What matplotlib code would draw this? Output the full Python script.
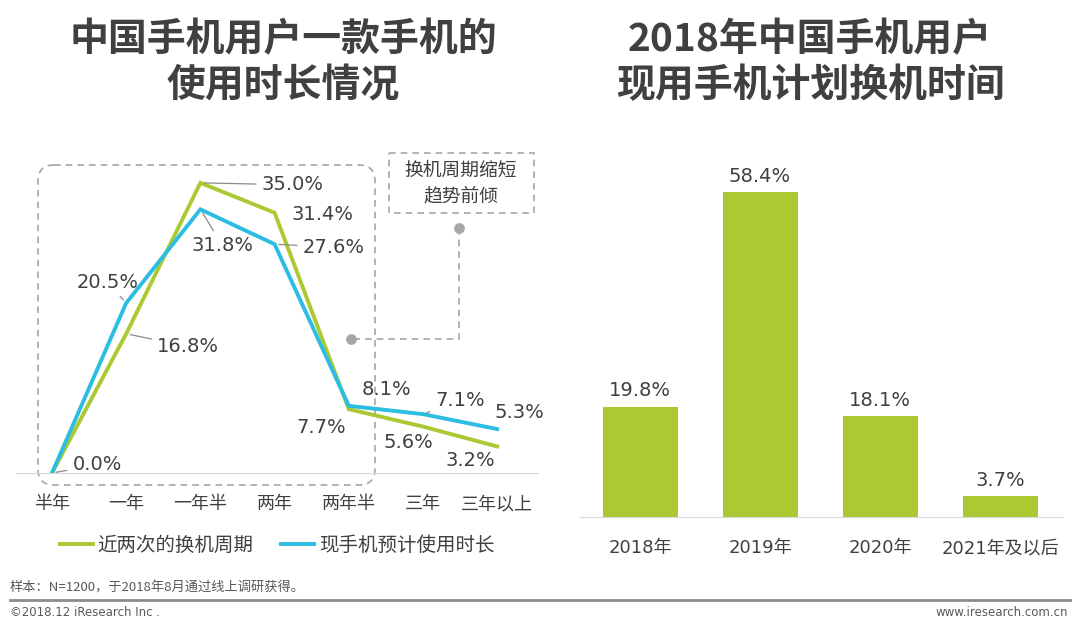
import matplotlib.pyplot as plt
from matplotlib.patches import FancyBboxPatch, Rectangle

# data
periods = ['半年', '一年', '一年半', '两年', '两年半', '三年', '三年以上']
cycle_last_two = [0.0, 16.8, 35.0, 31.4, 7.7, 5.6, 3.2]
expected_use = [0.0, 20.5, 31.8, 27.6, 8.1, 7.1, 5.3]
plan_years = ['2018年', '2019年', '2020年', '2021年及以后']
plan_share = [19.8, 58.4, 18.1, 3.7]

# label offsets in pixels (dx, dy) and whether a leader line is drawn
green_offsets = [(45, 8, True), (62, -13, True), (92, -2, True), (48, -2, False),
                 (-28, -18, False), (-15, -16, False), (-27, -14, False)]
cyan_offsets = [None, (-19, 21, True), (22, -36, True), (59, -3, True),
                (38, 16, False), (37, 14, True), (22, 17, False)]

GREEN = '#abc932'
CYAN = '#2cbde3'
TXT = '#404040'
GRID = '#d9d9d9'

plt.rcParams['font.family'] = ['DejaVu Sans', 'Noto Sans CJK SC']

W, H = 1080, 627
fig = plt.figure(figsize=(W / 100, H / 100), dpi=100)

# overlay for decorations, pixel coordinates
deco = fig.add_axes([0, 0, 1, 1], zorder=0)
deco.set_xlim(0, W)
deco.set_ylim(H, 0)
deco.axis('off')


def px_axes(x0, x1, y_top, y_base):
    return fig.add_axes([x0 / W, (H - y_base) / H, (x1 - x0) / W, (y_base - y_top) / H], zorder=1)


# ---- left: line chart ----
ax1 = px_axes(16, 538, 150, 473)
ax1.patch.set_alpha(0)
x = list(range(len(periods)))
ax1.plot(x, cycle_last_two, color=GREEN, lw=2.8, label='近两次的换机周期', solid_joinstyle='miter')
ax1.plot(x, expected_use, color=CYAN, lw=2.8, label='现手机预计使用时长', solid_joinstyle='miter')
ax1.set_xlim(-0.485, 6.55)
ax1.set_ylim(0, 323 / 8.29)
ax1.set_xticks(x)
ax1.set_xticklabels(periods, fontsize=13, color=TXT)
ax1.set_yticks([])
for s in ['top', 'right', 'left']:
    ax1.spines[s].set_visible(False)
ax1.spines['bottom'].set_color(GRID)
ax1.tick_params(axis='x', length=0, pad=16)

for series, offs in [(cycle_last_two, green_offsets), (expected_use, cyan_offsets)]:
    for i, v in enumerate(series):
        if offs[i] is None:
            continue
        dx, dy, lead = offs[i]
        kw = {}
        if lead:
            kw['arrowprops'] = dict(arrowstyle='-', color='#8c8c8c', lw=0.9, shrinkA=2, shrinkB=3)
        ax1.annotate(f'{v:.1f}%', xy=(i, v), xytext=(dx, dy), textcoords='offset pixels',
                     ha='center', va='center', fontsize=14, color=TXT, **kw)

ax1.legend(loc='center', bbox_to_anchor=(277 / W, 1 - 545 / H), bbox_transform=fig.transFigure,
           ncol=2, frameon=False, fontsize=14, handlelength=1.7, handletextpad=0.25,
           columnspacing=1.4, labelcolor=TXT)

# dashed rounded box and callout
deco.add_patch(FancyBboxPatch((38, 165), 337, 320, boxstyle='round,pad=0,rounding_size=16',
                              fill=False, ec='#a6a6a6', lw=1.2, ls=(0, (4, 3))))
deco.add_patch(Rectangle((389, 153), 145, 60, fill=False, ec='#a6a6a6', lw=1.2, ls=(0, (4, 3))))
deco.text(461, 183, '换机周期缩短\n趋势前倾', ha='center', va='center', fontsize=13.5,
          color=TXT, linespacing=1.3, family='Noto Sans CJK SC')
deco.plot([459, 459, 351], [228, 339, 339], color='#a6a6a6', lw=1.2, ls=(0, (4, 3)))
deco.scatter([459, 351], [228, 339], s=45, color='#a6a6a6', zorder=3)

# ---- right: bar chart ----
ax2 = px_axes(580, 1063, 150, 517)
ax2.patch.set_alpha(0)
xb = list(range(len(plan_years)))
bars = ax2.bar(xb, plan_share, width=0.625, color=GREEN)
ax2.set_xlim(-0.5, 3.525)
ax2.set_ylim(0, 367 / 5.565)
ax2.set_xticks(xb)
ax2.set_xticklabels(plan_years, fontsize=13, color=TXT)
ax2.set_yticks([])
for s in ['top', 'right', 'left']:
    ax2.spines[s].set_visible(False)
ax2.spines['bottom'].set_color(GRID)
ax2.tick_params(axis='x', length=0, pad=16)
for b, v in zip(bars, plan_share):
    ax2.annotate(f'{v:.1f}%', xy=(b.get_x() + b.get_width() / 2, v), xytext=(0, 16),
                 textcoords='offset pixels', ha='center', va='center', fontsize=14, color=TXT)

# ---- titles ----
for cx, t1, t2 in [(283, '中国手机用户一款手机的', '使用时长情况'),
                   (810, '2018年中国手机用户', '现用手机计划换机时间')]:
    deco.text(cx, 40, t1, ha='center', va='center', fontsize=28, fontweight='heavy',
              color=TXT, family='Noto Sans CJK SC')
    deco.text(cx, 86, t2, ha='center', va='center', fontsize=28, fontweight='heavy',
              color=TXT, family='Noto Sans CJK SC')

# ---- footer ----
deco.text(10, 588, '样本：N=1200，于2018年8月通过线上调研获得。', ha='left', va='center',
          fontsize=9.5, color='#595959', family='Noto Sans CJK SC')
deco.plot([10, 1070], [600, 600], color='#8c8c8c', lw=2)
deco.text(10, 612, '©2018.12 iResearch Inc .', ha='left', va='center', fontsize=8.5,
          color='#595959', family='Liberation Sans Narrow')
deco.text(1068, 612, 'www.iresearch.com.cn', ha='right', va='center', fontsize=8.5,
          color='#595959', family='Liberation Sans Narrow')

fig.savefig('out.png', dpi=100)
